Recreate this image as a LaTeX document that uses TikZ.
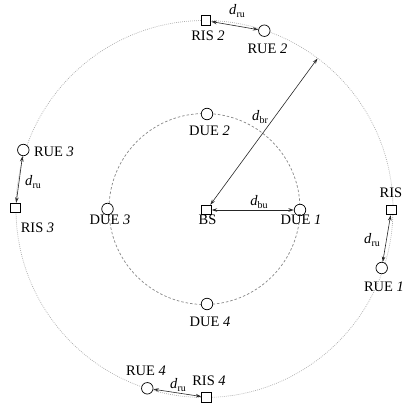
\documentclass[tikz,border=0pt]{standalone}
\usepackage{fontspec}
\setmainfont{Liberation Serif}
\usetikzlibrary{arrows.meta}
% distance symbol: italic d with an upright subscript
\newcommand{\dist}[1]{\textit{d}\kern0.2pt\raisebox{-0.45ex}{\fontsize{10}{11}\selectfont #1}}

\begin{document}
\begin{tikzpicture}[x=1pt,y=-1pt,
  lbl/.style={font=\fontsize{14.5}{16}\selectfont, inner sep=0pt},
  risbox/.style={draw, rectangle, minimum size=9.5pt, inner sep=0pt, fill=white, line width=0.9pt},
  uecirc/.style={draw, circle, minimum size=11.5pt, inner sep=0pt, fill=white, line width=0.7pt},
  link/.style={{Stealth[length=5.5pt,width=3.6pt,open,fill=white]}-{Stealth[length=5.5pt,width=3.6pt,open,fill=white]}, line width=0.6pt, black!85},
  outerring/.style={gray!65, line width=0.7pt, dash pattern=on 0.8pt off 1.2pt},
  innerring/.style={gray!95, line width=0.7pt, dash pattern=on 2.5pt off 2pt}
]
\useasboundingbox (0,0) rectangle (406,404);

% rings
\coordinate (C) at (204.5,209);
\draw[outerring] (C) circle[radius=188.5];
\draw[innerring] (C) circle[radius=95.5];
\coordinate (brEnd) at (317.5,58.5);

% base station and direct users
\node[risbox] (BS) at (206.5,210) {};
\node[uecirc] (DUE1) at (300,210) {};
\node[uecirc] (DUE2) at (207,114) {};
\node[uecirc] (DUE3) at (107.5,209) {};
\node[uecirc] (DUE4) at (207,304) {};

% reflecting surfaces and their users
\node[risbox] (RIS2) at (206,20.7) {};
\node[risbox] (RIS3) at (15.5,208) {};
\node[risbox] (RIS1) at (391.5,210) {};
\node[risbox] (RIS4) at (206.5,397.3) {};
\node[uecirc] (RUE2) at (264.3,30.7) {};
\node[uecirc] (RUE3) at (23.3,150) {};
\node[uecirc] (RUE1) at (381.7,268) {};
\node[uecirc] (RUE4) at (147.3,388.3) {};

% links
\draw[link] (BS) -- (DUE1);
\draw[link] (BS) -- (brEnd);
\draw[link] (RIS2) -- (RUE2);
\draw[link] (RIS3) -- (RUE3);
\draw[link] (RIS1) -- (RUE1);
\draw[link] (RIS4) -- (RUE4);

% labels
\node[lbl] (tBS) at (207.5,220) {BS};
\node[lbl] (tDUE1) at (301,220) {DUE \textit{1}};
\node[lbl] (tDUE2) at (209.5,131) {DUE \textit{2}};
\node[lbl] (tDUE3) at (110,220) {DUE \textit{3}};
\node[lbl] (tDUE4) at (210,322) {DUE \textit{4}};
\node[lbl] (tRIS2) at (208,36) {RIS \textit{2}};
\node[lbl] (tRUE2) at (267.5,49) {RUE \textit{2}};
\node[lbl] (tRUE3) at (54,152) {RUE \textit{3}};
\node[lbl] (tRIS3) at (37.5,228) {RIS \textit{3}};
\node[lbl] (tRIS1) at (391,193) {RIS};
\node[lbl] (tRUE1) at (384,287) {RUE \textit{1}};
\node[lbl] (tRUE4) at (146,371) {RUE \textit{4}};
\node[lbl] (tRIS4) at (209,381) {RIS \textit{4}};
\node[lbl] (dbu) at (259,202) {\dist{bu}};
\node[lbl] (dbr) at (260,117) {\dist{br}};
\node[lbl] (dru2) at (237,11) {\dist{ru}};
\node[lbl] (dru3) at (33,182) {\dist{ru}};
\node[lbl] (dru1) at (372,240) {\dist{ru}};
\node[lbl] (dru4) at (178,385) {\dist{ru}};
\end{tikzpicture}
\end{document}
